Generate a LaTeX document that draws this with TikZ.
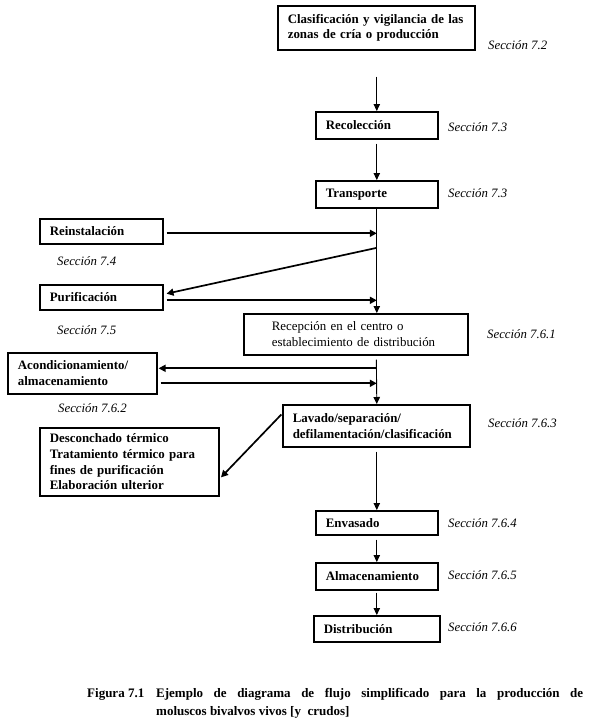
\documentclass[tikz,border=0pt]{standalone}
\usepackage{fontspec}
\setmainfont{Liberation Serif}
\usetikzlibrary{arrows.meta}
\begin{document}
\begin{tikzpicture}[x=1pt,y=-1pt,
  box/.style={draw, line width=1.6pt, inner xsep=10pt, inner ysep=1pt, align=left, anchor=north west,
    font=\fontsize{12.9}{15.8}\selectfont\bfseries},
  sec/.style={anchor=west, inner sep=0pt, font=\fontsize{12.8}{14}\selectfont\itshape},
  varr/.style={line width=0.9pt, -{Triangle[length=7pt,width=6.5pt]}},
  harr/.style={line width=1.7pt, -{Triangle[length=7pt,width=7pt]}},
]
\useasboundingbox (0,0) rectangle (593,728);

% boxes
\node[box, text width=177pt, minimum width=197pt, minimum height=44pt] (clas) at (277,5)
  {Clasificación y vigilancia de las\\zonas de cría o producción};
\node[box, text width=102pt, minimum width=122pt, minimum height=27pt] (rec) at (315,111) {Recolección};
\node[box, text width=102pt, minimum width=122pt, minimum height=27pt] (tra) at (315,180) {Transporte};
\node[box, text width=103pt, minimum width=123pt, minimum height=25pt] (rein) at (39,218) {Reinstalación};
\node[box, text width=103pt, minimum width=123pt, minimum height=25pt] (puri) at (39,284) {Purificación};
\node[box, inner xsep=28pt, text width=168pt, minimum width=224pt, minimum height=41pt, font=\fontsize{12.9}{15.8}\selectfont] (recep) at (243,313)
  {Recepción en el centro o\\establecimiento de distribución};
\node[box, text width=129pt, minimum width=149pt, minimum height=41pt] (acon) at (7,352)
  {Acondicionamiento/\\almacenamiento};
\node[box, text width=167pt, minimum width=187pt, minimum height=42pt] (lav) at (282,404)
  {Lavado/separación/\\defilamentación/clasificación};
\node[box, text width=159pt, minimum width=179pt, minimum height=68pt] (desc) at (39,427)
  {Desconchado térmico\\Tratamiento térmico para\\fines de purificación\\Elaboración ulterior};
\node[box, text width=102pt, minimum width=122pt, minimum height=24pt] (env) at (315,510) {Envasado};
\node[box, text width=102pt, minimum width=122pt, minimum height=27pt] (alm) at (315,562) {Almacenamiento};
\node[box, text width=106pt, minimum width=126pt, minimum height=26pt] (dist) at (313,615) {Distribución};

% section labels
\node[sec] (s1) at (488,45) {Sección 7.2};
\node[sec] (s2) at (448,127) {Sección 7.3};
\node[sec] (s3) at (448,193) {Sección 7.3};
\node[sec] (s4) at (57,261) {Sección 7.4};
\node[sec] (s5) at (57,330) {Sección 7.5};
\node[sec] (s6) at (487,334) {Sección 7.6.1};
\node[sec] (s7) at (58,408) {Sección 7.6.2};
\node[sec] (s8) at (488,423) {Sección 7.6.3};
\node[sec] (s9) at (448,523) {Sección 7.6.4};
\node[sec] (s10) at (448,575) {Sección 7.6.5};
\node[sec] (s11) at (448,627) {Sección 7.6.6};

% main flow
\draw[varr, shorten <=26pt] (clas.south -| rec.north) -- (rec.north);
\draw[varr, shorten <=4pt] (rec.south) -- (tra.north);
\draw[varr] (tra.south) -- (tra.south |- recep.north);
\draw[varr, shorten <=4pt] (recep.south -| lav.north) -- (lav.north -| rec.south);
\draw[varr, shorten <=4pt] (lav.south -| env.north) -- (env.north);
\draw[varr, shorten <=4pt] (env.south) -- (alm.north);
\draw[varr, shorten <=2pt] (alm.south) -- (dist.north);

% side branches
\coordinate (j2) at (376,248);
\draw[harr, shorten <=3pt] ([yshift=-2pt]rein.east) -- ([yshift=-2pt]rein.east -| tra.south);
\draw[harr, shorten >=3pt] (j2) -- ([yshift=3pt]puri.east);
\draw[harr, shorten <=3pt] ([yshift=-3pt]puri.east) -- ([yshift=-3pt]puri.east -| tra.south);
\draw[harr, shorten >=1pt] ([yshift=5pt]acon.east -| tra.south) -- ([yshift=5pt]acon.east);
\draw[harr, shorten <=3pt] ([yshift=-10pt]acon.east) -- ([yshift=-10pt]acon.east -| tra.south);
\draw[harr, shorten <=1pt, shorten >=2pt] ([yshift=12pt]lav.west) -- ([yshift=-17pt]desc.east);

% caption
\node[anchor=base west, inner sep=0pt, font=\fontsize{13}{18}\selectfont\bfseries] (fig) at (87,697) {Figura 7.1};
\node[anchor=north west, inner sep=0pt, text width=427pt, align=justify,
  font=\fontsize{13}{18}\selectfont\bfseries] (cap) at (156,688)
  {Ejemplo de diagrama de flujo simplificado para la producción de\linebreak moluscos bivalvos vivos [y\ \ crudos]};
\end{tikzpicture}
\end{document}
